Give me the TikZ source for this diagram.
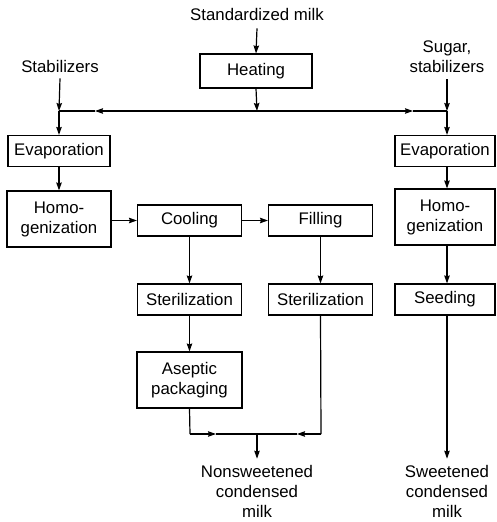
\documentclass[tikz,border=0pt]{standalone}
\usepackage{fontspec}
\setmainfont{Liberation Sans}
\usetikzlibrary{arrows.meta}
\begin{document}
\begin{tikzpicture}[x=1pt,y=-1pt,
  every node/.style={font=\fontsize{16.8}{20}\selectfont},
  box/.style={draw,line width=1.1pt,rectangle,inner sep=0pt,align=center,minimum height=31pt},
  tall/.style={box,minimum height=56pt},
  lbl/.style={align=center,inner sep=0pt},
  arr/.style={line width=1.2pt,-{Stealth[length=8pt,width=5.5pt,inset=1pt]}},
  ln/.style={line width=1.2pt}]
\useasboundingbox (0,0) rectangle (497,522);
% labels
\node[lbl] (sm) at (257,14) {Standardized milk};
\node[lbl] (stab) at (60,66) {Stabilizers};
\node[lbl] (sug) at (447,57) {Sugar,\\stabilizers};
% boxes
\node[box,minimum width=112pt,minimum height=34pt] (heat) at (256,71) {Heating};
\node[box,minimum width=102pt] (evl) at (59,151) {Evaporation};
\node[box,minimum width=100pt] (evr) at (445,151) {Evaporation};
\node[tall,minimum width=104pt] (hol) at (59,219) {Homo-\\genization};
\node[box,minimum width=104pt] (cool) at (189.5,220.5) {Cooling};
\node[box,minimum width=104pt] (fill) at (320.5,220.5) {Filling};
\node[tall,minimum width=100pt] (hor) at (445,217) {Homo-\\genization};
\node[box,minimum width=104pt] (st1) at (189.5,299.5) {Sterilization};
\node[box,minimum width=104pt] (st2) at (320.5,299.5) {Sterilization};
\node[box,minimum width=100pt] (seed) at (445,299.5) {Seeding};
\node[tall,minimum width=105pt] (asep) at (189.5,380) {Aseptic\\packaging};
\node[lbl] (nons) at (257,491) {Nonsweetened\\condensed\\milk};
\node[lbl] (swt) at (447,491) {Sweetened\\condensed\\milk};
% coordinates
\coordinate (jl) at (59,111);
\coordinate (jc) at (257,111);
\coordinate (jr) at (447,111);
\coordinate (ml) at (95,111);
\coordinate (mr) at (413,111);
\coordinate (bl) at (190,434);
\coordinate (bc) at (257,434);
\coordinate (br) at (321,434);
\coordinate (bml) at (216,434);
\coordinate (bmr) at (297,434);
% top connections
\draw[arr] ([yshift=-8pt]sm.south) -- (heat.north);
\draw[arr] (heat.south) -- (jc);
\draw[arr] (jc) -- (ml);
\draw[ln] (ml) -- (jl);
\draw[arr] (jc) -- (mr);
\draw[ln] (mr) -- (jr);
\draw[arr] ([yshift=-6pt]stab.south) -- (jl);
\draw[arr] ([yshift=-6pt]sug.south -| jr) -- (jr);
\draw[arr] (jl) -- (evl.north);
\draw[arr] (jr) -- (evr.north -| jr);
% left/middle chain
\draw[arr] (evl.south) -- (hol.north);
\draw[arr] (hol.east |- cool) -- (cool.west);
\draw[arr] (cool.east) -- (fill.west);
\draw[arr] (cool.south) -- (st1.north);
\draw[arr] (fill.south) -- (st2.north);
\draw[arr] (st1.south) -- (asep.north);
\draw[ln] (asep.south) -- (bl);
\draw[arr] (bl) -- (bml);
\draw[ln] (bml) -- (bc);
\draw[ln] (st2.south) -- (br);
\draw[arr] (br) -- (bmr);
\draw[ln] (bmr) -- (bc);
\draw[arr] (bc) -- ([yshift=6pt]nons.north);
% right chain
\draw[arr] (evr.south -| jr) -- (hor.north -| jr);
\draw[arr] (hor.south -| jr) -- (seed.north -| jr);
\draw[arr] (seed.south -| jr) -- ([yshift=6pt]swt.north -| jr);
\end{tikzpicture}
\end{document}
